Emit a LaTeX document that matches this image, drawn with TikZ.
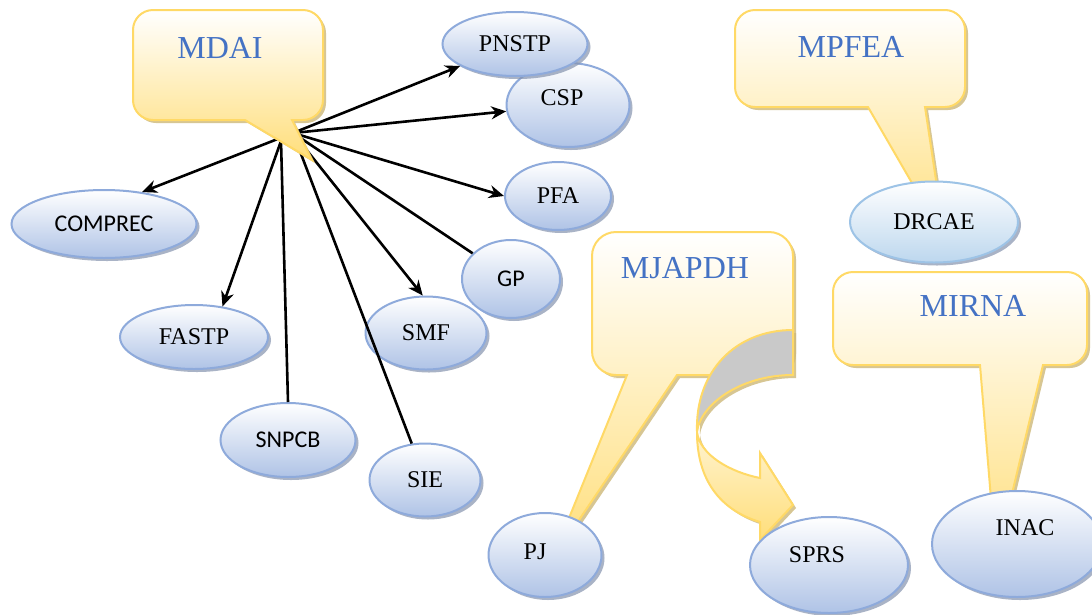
\documentclass[tikz,border=0pt]{standalone}
\usepackage{fontspec}
\setmainfont{Liberation Serif}
\newfontfamily\calibri{Carlito}
\usepackage{xcolor}
\usetikzlibrary{shapes.geometric, arrows.meta, shadows}

\definecolor{calloutline}{HTML}{FFD966}
\definecolor{calloutfill}{HTML}{FFDE7A}
\definecolor{calloutshade}{HTML}{CDB878}
\definecolor{bubbleline}{HTML}{8EAADB}
\definecolor{bubblefill}{HTML}{AFC3E6}
\definecolor{bubbleshade}{HTML}{8593AE}
\definecolor{skyline}{HTML}{9DC3E6}
\definecolor{skyfill}{HTML}{BDD7EE}
\definecolor{titleblue}{HTML}{4472C4}
\definecolor{twistgray}{HTML}{C9C9C9}

\tikzset{
    bubble/.style={ellipse, draw=bubbleline, line width=2pt, inner sep=0pt,
        top color=white, bottom color=bubblefill,
        drop shadow={shadow xshift=3pt, shadow yshift=-3pt, fill=bubbleshade, opacity=0.7},
        font=\fontsize{24}{28}\selectfont},
    sansbubble/.style={bubble, font=\calibri\fontsize{24}{28}\selectfont},
    bubbletext/.style={inner sep=0pt, font=\fontsize{24}{28}\selectfont},
    dims/.style 2 args={minimum width=#1pt, minimum height=#2pt},
    callout/.style={draw=calloutline, line width=2pt,
        top color=white, bottom color=calloutfill,
        drop shadow={shadow xshift=3pt, shadow yshift=-3pt, fill=calloutshade, opacity=0.8}},
    title/.style={text=titleblue, font=\fontsize{32}{36}\selectfont},
    link/.style={line width=2.6pt},
    arrowlink/.style={link, -{Stealth[length=15pt, width=13pt]}}
}

\begin{document}
\begin{tikzpicture}[x=1pt, y=-1pt]
    \path[use as bounding box, fill=white] (0,0) rectangle (1092,614);

    % MPFEA callout
    \draw[callout, rounded corners=20pt] (800,107) -- (735,107) -- (735,10) -- (965,10) -- (965,107)
        [sharp corners] -- (925,107) -- (945,240) -- (868,107) -- cycle;
    \node[title] (mpfea) at (851,47) {MPFEA};

    % MIRNA callout
    \draw[callout, rounded corners=20pt] (900,365) -- (833,365) -- (833,272) -- (1087,272) -- (1087,365)
        [sharp corners] -- (1043,365) -- (996,560) -- (980,365) -- cycle;
    \node[title] (mirna) at (973,306) {MIRNA};

    % MJAPDH callout
    \draw[callout, rounded corners=24pt] (610,375) -- (592,375) -- (592,232) -- (793,232) -- (793,375)
        [sharp corners] -- (677,375) -- (552,560) -- (627,375) -- cycle;
    \node[title] (mjapdh) at (685,268) {MJAPDH};

    % curved arrow to SPRS
    \draw[callout, top color=twistgray, bottom color=twistgray]
        (793,330) .. controls (735,330) and (695,372) .. (697,432)
        .. controls (700,405) and (740,375) .. (793,375) -- cycle;
    \draw[callout, top color=calloutfill!35!white]
        (697,432) .. controls (700,455) and (730,472) .. (760,478) -- (760,453) -- (793,505)
        -- (760,540) -- (760,522) .. controls (720,510) and (697,480) .. (697,432) -- cycle;

    % ellipses
    \node[bubble, dims={123}{84}] (csp) at (568,105) {};
    \node[bubbletext] (csp-text) at (562,98) {CSP};
    \node[bubble, dims={145}{64}] (pnstp) at (515,44) {PNSTP};
    \node[bubble, dims={106}{68}] (pfa) at (558,196) {PFA};
    \node[sansbubble, dims={185}{68}] (comprec) at (104,224) {COMPREC};
    \node[bubble, dims={148}{64}] (fastp) at (194,337) {FASTP};
    \node[bubble, dims={121}{73}] (smf) at (426,333) {SMF};
    \node[sansbubble, dims={98}{78}] (gp) at (511,279) {GP};
    \node[sansbubble, dims={135}{74}] (snpcb) at (288,440) {SNPCB};
    \node[bubble, dims={111}{73}] (sie) at (425,480) {SIE};
    \node[bubble, dims={113}{84}] (pj) at (545,555) {};
    \node[bubbletext] (pj-text) at (535,552) {PJ};
    \node[bubble, dims={158}{96}] (sprs) at (829,565) {};
    \node[bubbletext] (sprs-text) at (817,555) {SPRS};
    \node[bubble, dims={170}{106}] (inac) at (1017,544) {};
    \node[bubbletext] (inac-text) at (1025,528) {INAC};
    \node[bubble, dims={168}{81}, draw=skyline, bottom color=skyfill] (drcae) at (934,222) {DRCAE};

    % links from MDAI
    \coordinate (hub) at (293,133);
    \coordinate (hubl) at (281,141);
    \draw[arrowlink] (hub) -- (pnstp);
    \draw[arrowlink] (hub) -- (csp);
    \draw[arrowlink] (hub) -- (pfa.west);
    \draw[arrowlink] (hub) -- (comprec.40);
    \draw[arrowlink] (hubl) -- (fastp.47);
    \draw[arrowlink] (hub) -- (smf.95);
    \draw[link] (hub) -- (gp);
    \draw[link] (hubl) -- (snpcb.north);
    \draw[link] (hub) -- (sie.110);

    % MDAI callout
    \draw[callout, rounded corners=20pt] (200,120) -- (133,120) -- (133,10) -- (323,10) -- (323,120)
        [sharp corners] -- (292,120) -- (312,160) -- (245,120) -- cycle;
    \node[title] (mdai) at (220,48) {MDAI};
\end{tikzpicture}
\end{document}
